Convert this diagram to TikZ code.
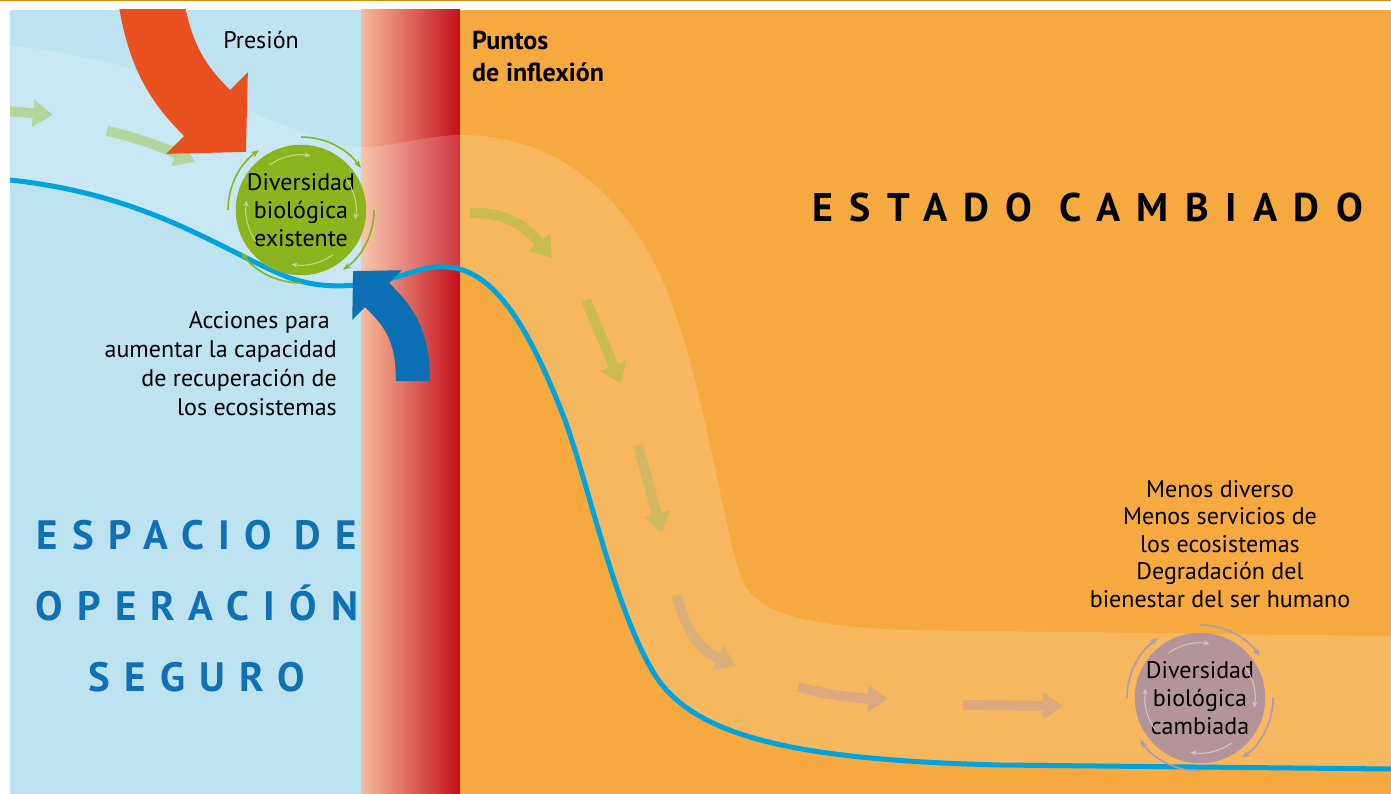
\documentclass[tikz,border=0pt]{standalone}
\usepackage{fontspec}
\setmainfont{PT Sans}
\usetikzlibrary{arrows.meta}

\definecolor{oro}{HTML}{D49012}
\definecolor{celeste}{HTML}{BEE3F0}
\definecolor{naranja}{HTML}{F5A93E}
\definecolor{salmon}{HTML}{F7BC9B}
\definecolor{rojizo}{HTML}{DF7355}
\definecolor{rojo}{HTML}{C40E1C}
\definecolor{linea}{HTML}{00A3DB}
\definecolor{presion}{HTML}{E8501F}
\definecolor{accion}{HTML}{0C6FB4}
\definecolor{azultexto}{HTML}{1070B6}
\definecolor{bioverde}{HTML}{8CB41F}
\definecolor{verdeclaro}{HTML}{C4DC90}
\definecolor{biomalva}{HTML}{B39599}
\definecolor{malva}{HTML}{A89CB8}
\definecolor{malvaclaro}{HTML}{D2C4CC}
\definecolor{flujoA}{HTML}{B2D69B}
\definecolor{flujoB}{HTML}{CABB4F}
\definecolor{flujoC}{HTML}{D2B865}
\definecolor{flujoD}{HTML}{D8B078}
\definecolor{flujoE}{HTML}{DBA880}

\tikzset{
  flujo/.style={line width=10pt, -{Triangle[length=20pt,width=26pt]}},
  ciclo/.style={line width=1.6pt, -{Stealth[length=8pt,width=6pt]}},
  ciclofino/.style={line width=1pt, -{Stealth[length=6pt,width=5pt]}},
  texto/.style={inner sep=0pt, font=\fontsize{24}{28}\selectfont},
  biodiv/.style={circle, minimum size=130pt, inner sep=0pt, align=center,
    font=\fontsize{24}{28}\selectfont},
}

\begin{document}
\begin{tikzpicture}[x=1pt, y=-1pt]
  \useasboundingbox (0,0) rectangle (1391,794);
  \fill[oro] (0,0) rectangle (1391,1.5);

  \begin{scope}
    \clip (10,10) rectangle (1391,794);
    % fondos
    \fill[celeste] (10,10) rectangle (361,794);
    \shade[left color=salmon, middle color=rojizo, right color=rojo] (361,10) rectangle (460,794);
    \fill[naranja] (460,10) rectangle (1391,794);

    % banda clara del recorrido
    \fill[white, opacity=.17] (10,46) .. controls (150,58) and (250,118) .. (340,145)
      .. controls (380,153) and (420,135) .. (460,135)
      .. controls (540,135) and (605,175) .. (650,255)
      .. controls (700,345) and (720,520) .. (742,580)
      .. controls (756,612) and (800,625) .. (900,630) -- (1391,636) -- (1391,769)
      -- (1000,765) .. controls (800,760) and (695,738) .. (655,675)
      .. controls (615,610) and (590,490) .. (565,420)
      .. controls (530,330) and (495,268) .. (445,267)
      .. controls (420,265) and (400,280) .. (360,285)
      .. controls (340,286) and (320,288) .. (290,278)
      .. controls (220,250) and (150,195) .. (10,180) -- cycle;

    % flechas del recorrido
    \draw[flujo, flujoA] (8,111) -- (53,115);
    \draw[flujo, flujoA] (107,131) .. controls (135,137) and (160,146) .. (195,162);
    \draw[flujo, flujoB] (470,213) .. controls (505,212) and (525,225) .. (552,258);
    \draw[flujo, flujoB] (586,300) -- (621,384);
    \draw[flujo, flujoC] (638,445) -- (662,533);
    \draw[flujo, flujoD] (677,595) .. controls (685,630) and (700,650) .. (736,666);
    \draw[flujo, flujoE] (798,687) .. controls (830,695) and (850,698) .. (888,699);
    \draw[flujo, flujoE] (963,705) -- (1063,706);

    % curva de estado
    \draw[linea, line width=5pt] (10,180) .. controls (150,195) and (220,250) .. (290,278)
      .. controls (320,288) and (340,286) .. (360,285)
      .. controls (400,280) and (420,265) .. (445,267)
      .. controls (495,268) and (530,330) .. (565,420)
      .. controls (590,490) and (615,610) .. (655,675)
      .. controls (695,738) and (800,760) .. (1000,765) -- (1391,769);

    % presion y acciones
    \draw[presion, line width=65pt, -{Triangle[length=55pt,width=112pt]}]
      (150,-5) .. controls (160,60) and (180,86) .. (246,152);
    \draw[accion, line width=34pt, -{Triangle[length=34pt,width=68pt]}]
      (413,381) .. controls (413,330) and (395,313) .. (353,271);
  \end{scope}

  % diversidad biologica
  \node[biodiv, fill=bioverde] (existente) at (301,210) {Diversidad\\biológica\\existente};
  \foreach \s in {-90,0,90,180}
    \draw[ciclo, bioverde] (existente.center) ++(\s:73) arc[start angle=\s, end angle=\s+55, radius=73];
  \foreach \s in {-125,-35,55,145}
    \draw[ciclofino, verdeclaro] (existente.center) ++(\s:55) arc[start angle=\s, end angle=\s+45, radius=55];

  \node[biodiv, fill=biomalva] (cambiada) at (1200,698) {Diversidad\\biológica\\cambiada};
  \foreach \s in {-90,0,90,180}
    \draw[ciclo, malva] (cambiada.center) ++(\s:73) arc[start angle=\s, end angle=\s+55, radius=73];
  \foreach \s in {-125,-35,55,145}
    \draw[ciclofino, malvaclaro] (cambiada.center) ++(\s:55) arc[start angle=\s, end angle=\s+45, radius=55];

  % textos
  \node[texto] (presiontxt) at (261,40) {Presión};
  \node[texto, anchor=north west, align=left, font=\bfseries\fontsize{26}{32}\selectfont]
    (puntos) at (472,31) {Puntos\\de inflexión};
  \node[texto, anchor=north east, align=right, font=\fontsize{24}{29}\selectfont]
    (acciones) at (337,311) {Acciones para\kern7pt\\aumentar la capacidad\\de recuperación de\\los ecosistemas};
  \node[texto, anchor=north, align=center, font=\fontsize{24}{27.5}\selectfont]
    (menos) at (1220,480) {Menos diverso\\Menos servicios de\\los ecosistemas\\Degradación del\\bienestar del ser humano};
  \node[inner sep=0pt, anchor=base west,
    font=\bfseries\fontsize{40}{40}\selectfont\addfontfeature{LetterSpace=41}]
    (estado) at (812,222) {ESTADO CAMBIADO};
  \node[inner sep=0pt, anchor=north, align=center, text=azultexto,
    font=\bfseries\fontsize{41}{71}\selectfont\addfontfeature{LetterSpace=35}]
    (espacio) at (197,520) {ESPACIO\kern-2pt{} DE\\OPERACIÓN\\SEGURO};
\end{tikzpicture}
\end{document}
